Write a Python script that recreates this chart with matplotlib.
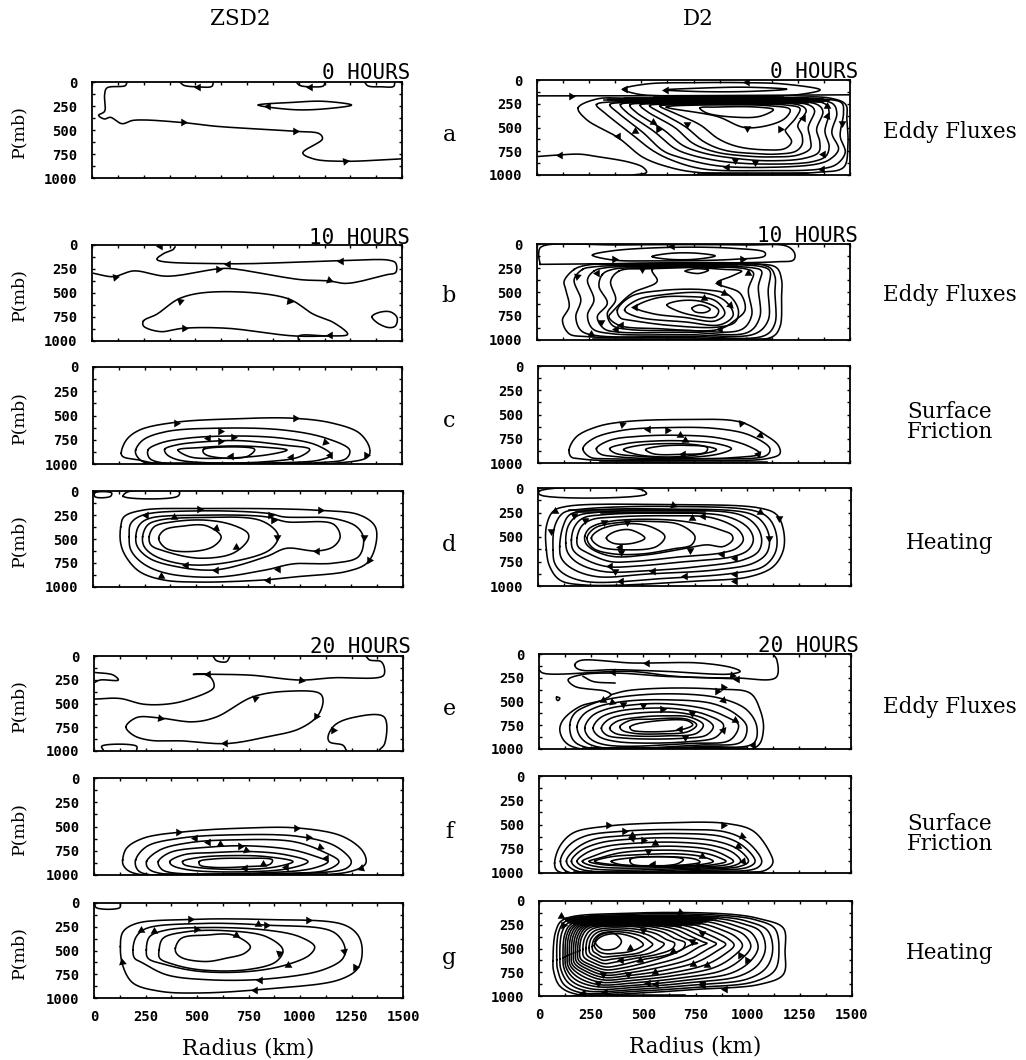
#!/usr/bin/env python3
# streamfunction panels, contours as (radius km, pressure mb)
import matplotlib
matplotlib.use('Agg')
import matplotlib.pyplot as plt
import numpy as np
from matplotlib.ticker import MultipleLocator

W, H = 1026, 1060

radius_ticks = [0, 250, 500, 750, 1000, 1250, 1500]
pressure_ticks = [0, 250, 500, 750, 1000]

# ---- ZSD2 column ----
a_l_open = [
    [(169,5),(161,38),(72,62),(61,132),(61,305),(32,347),(60,385),(89,368),(145,434),(201,399),(427,420),(604,462),
     (974,513),(1102,541),(1115,593),(1020,739),(1072,801),(1215,826),(1494,801)],
    [(427,5),(445,35),(510,50),(580,45),(587,5)],
    [(990,5),(1005,35),(1060,50),(1120,40),(1127,5)],
    [(1320,5),(1335,40),(1400,50),(1460,45),(1465,5)],
]
a_l_loops = [[(805,240),(974,212),(1119,201),(1256,240),(1119,281),(974,288)]]
a_l_arrows = [(515,52,180),(1054,52,180),(853,253,180),(440,420,0),(982,513,0),(1224,826,10)]

b_l_open = [
    [(402,20),(394,45),(346,90),(314,150),(652,195),(1199,163),(1441,160),(1470,190),(1470,285),(1425,310),(1232,400),
     (1151,375),(1006,360),(668,245),(604,250),(362,325),(201,270),(105,330),(8,295)],
    [(1000,1000),(1000,950),(1140,947)],
]
b_l_loops = [
    [(249,791),(313,722),(426,555),(588,489),(943,555),(1072,722),(1169,808),(1237,930),(1137,947),(975,947),(652,867),
     (443,867),(329,902),(249,843)],
    [(1355,746),(1387,704),(1444,697),(1476,756),(1468,843),(1436,860),(1379,808)],
]
b_l_arrows = [(330,15,180),(1205,167,180),(656,194,180),(111,333,-110),(612,253,0),(1145,364,-20),(426,583,-100),
              (951,583,-10),(443,867,120),(1153,940,180)]

c_l_open = [[(243,995),(1130,995)], [(300,988),(1060,988)]]
c_l_loops = [
    [(137,890),(162,752),(227,649),(405,569),(680,535),(971,528),(1165,580),(1294,683),(1343,838),(1335,925),(1165,994),
     (680,1000),(324,1000),(227,960),(146,925)],
    [(207,856),(243,752),(356,666),(599,631),(922,649),(1133,735),(1246,856),(1230,942),(1084,987),(680,1000),(324,994),
     (243,977),(210,907)],
    [(267,856),(324,787),(453,735),(680,711),(922,735),(1084,804),(1157,907),(1100,959),(922,987),(599,1000),(356,994),(275,942)],
    [(348,849),(404,804),(550,769),(712,759),(922,804),(1052,849),(1003,925),(841,976),(550,987),(404,952),(356,897)],
    [(413,856),(518,831),(680,814),(841,828),(942,856),(841,907),(599,942),(469,925)],
    [(537,849),(777,838),(785,856),(753,918),(663,942),(550,907),(534,873)],
]
c_l_arrows = [(405,580,0),(980,528,0),(558,735,60),(615,659,0),(615,762,0),(680,717,0),(1125,769,-15),(1149,907,-60),
              (1327,907,-120),(671,918,180),(963,925,180)]

d_l_open = []
d_l_loops = [
    [(134,373),(150,269),(240,200),(515,183),(1082,200),(1293,252),(1366,373),(1366,580),(1325,752),(1228,838),(1001,890),
     (839,925),(515,949),(337,925),(224,838),(159,683),(134,545)],
    [(175,476),(183,338),(240,252),(515,207),(855,235),(920,269),(1163,286),(1276,373),(1309,493),(1285,683),(1163,752),
     (969,759),(839,821),(596,897),(353,856),(240,752),(183,614)],
    [(207,476),(224,355),(272,286),(515,252),(839,269),(936,321),(1163,345),(1196,476),(1163,580),(1082,625),(936,597),
     (839,683),(596,821),(402,787),(272,700),(215,580)],
    [(240,476),(264,355),(321,304),(515,276),(807,304),(888,424),(896,493),(855,614),(677,735),(467,769),(305,683),(248,580)],
    [(272,476),(296,373),(386,321),(548,304),(677,355),(750,442),(750,510),(677,649),(515,700),(353,631),(280,562)],
    [(318,493),(345,407),(434,366),(548,362),(620,476),(580,580),(467,631),(353,597)],
    [(8,20),(90,20),(85,55),(10,60)],
    [(146,55),(167,10),(418,10),(410,55)],
]
d_l_arrows = [(515,186,0),(1098,200,0),(855,245,0),(256,252,180),(394,269,90),(871,304,0),(1309,476,-90),(1337,718,-120),
              (596,390,-40),(888,476,-90),(1082,621,180),(693,580,-150),(896,811,180),(596,821,180),(450,769,180),
              (847,925,180),(329,890,-150)]

e_l_open = [
    [(1322,7),(1338,42),(1394,60),(1411,148),(1402,211),(1160,229),(999,253),(756,201),(482,194),(554,201),(582,289),
     (579,341),(449,465),(352,507),(239,507),(126,447),(0,454)],
    [(1225,993),(1209,940),(1144,905),(1136,852),(1168,729),(1257,648),(1408,641),(1411,922),(1387,986)],
    [(0,172),(94,201),(118,253),(29,253),(0,282)],
    [(579,7),(595,49),(643,60),(659,7)],
    [(45,990),(37,950),(207,950),(207,990)],
]
e_l_loops = [
    [(155,746),(207,648),(304,648),(482,693),(595,641),(772,429),(950,370),(1096,394),(1112,465),(1088,623),(999,764),
     (837,852),(643,922),(433,894),(271,887),(191,834)],
]
e_l_arrows = [(554,194,180),(1007,253,-10),(320,648,-10),(781,440,20),(1079,634,-120),(635,911,180),(1160,774,-120)]

f_l_open = [[(239,995),(1210,995)], [(320,988),(1130,988)]]
f_l_loops = [
    [(139,845),(158,724),(239,621),(449,552),(724,517),(999,517),(1209,604),(1306,759),(1319,880),(1241,966),(837,1000),
     (239,1000),(166,955),(142,897)],
    [(202,845),(255,707),(417,621),(676,586),(999,604),(1176,707),(1249,862),(1225,931),(999,983),(239,983),(207,931)],
    [(255,862),(320,742),(465,666),(676,638),(966,655),(1112,759),(1189,862),(1128,949),(918,983),(320,983),(263,931)],
    [(312,862),(368,769),(546,714),(756,700),(966,742),(1079,811),(1136,862),(1063,931),(837,976),(352,966),(320,921)],
    [(368,862),(433,793),(579,769),(773,759),(934,793),(1039,862),(950,931),(756,966),(465,949),(377,897)],
    [(430,862),(514,818),(676,800),(837,811),(966,862),(869,921),(676,942),(498,921),(436,890)],
    [(511,862),(579,835),(724,828),(866,845),(856,887),(740,914),(579,921),(514,897)],
]
f_l_arrows = [(409,559,0),(983,517,0),(490,621,60),(1039,610,0),(554,662,60),(611,680,90),(1095,707,-20),(708,697,0),
              (740,742,-20),(1125,828,-60),(1298,931,-160),(821,890,90),(732,925,180),(934,921,180)]

g_l_open = [[(3,7),(11,49),(125,49),(128,7)]]
g_l_loops = [
    [(128,459),(141,303),(205,216),(448,174),(837,174),(1209,226),(1281,338),(1302,494),(1281,686),(1192,807),(837,905),
     (513,947),(319,929),(189,842),(141,668)],
    [(189,494),(205,355),(254,268),(513,216),(837,233),(1160,303),(1217,459),(1209,581),(1112,703),(837,800),(545,807),
     (351,755),(238,633),(197,581)],
    [(254,494),(270,355),(351,285),(545,258),(837,285),(998,355),(1071,459),(1047,546),(934,651),(756,720),(513,720),
     (351,651),(262,581)],
    [(316,494),(335,372),(448,303),(642,292),(837,355),(917,494),(885,616),(739,703),(513,703),(383,644),(319,581)],
    [(395,477),(424,372),(545,338),(675,338),(759,459),(731,529),(642,581),(545,616),(432,581),(400,529)],
]
g_l_arrows = [(464,164,0),(1039,174,0),(796,216,90),(837,233,0),(230,285,-150),(290,296,-150),(497,275,0),(691,338,-30),
              (898,522,-100),(1215,505,-80),(1265,675,-120),(942,651,-150),(804,814,180),(780,912,180),(138,616,100)]

# ---- D2 column ----
a_r_open = [
    [(5,167),(700,165),(1500,156)],
    [(5,805),(93,791),(205,781),(285,805),(445,867),(509,920),(525,972),(461,1000)],
    [(750,995),(1380,995)], [(770,975),(1300,975)],
    [(560,182),(1180,182)], [(420,190),(1300,190)], [(340,198),(1370,198)], [(320,206),(1400,206)],
    [(340,214),(1400,214)], [(400,222),(1390,222)], [(480,230),(1370,230)], [(600,238),(1300,238)],
]
a_r_loops = [
    [(413,97),(525,42),(765,28),(989,28),(1181,42),(1357,104),(1245,156),(925,173),(605,167),(477,146)],
    [(613,104),(765,87),(1005,76),(1197,97),(1005,121),(765,121)],
    [(197,295),(237,416),(389,607),(509,815),(637,920),(765,972),(1085,989),(1341,972),(1469,920),(1490,700),(1485,416),
     (1480,260),(1405,191),(1085,191),(445,191),(285,201)],
    [(285,260),(325,347),(445,555),(557,746),(653,850),(797,937),(1085,954),(1357,937),(1437,885),(1477,763),(1453,590),
     (1469,347),(1461,243),(1373,201),(925,208),(445,225)],
    [(349,260),(389,347),(509,555),(605,746),(685,815),(861,902),(1085,920),(1341,885),(1405,833),(1445,729),(1413,555),
     (1437,347),(1413,243),(925,225),(445,236)],
    [(400,260),(430,340),(560,540),(660,720),(740,790),(900,860),(1100,885),(1320,860),(1385,800),(1400,700),(1380,540),
     (1400,340),(1380,250),(925,232),(500,240)],
    [(445,265),(475,340),(610,530),(700,690),(800,770),(950,825),(1110,850),(1280,825),(1350,760),(1355,650),(1340,520),
     (1370,330),(1340,255),(925,240),(550,245)],
    [(495,265),(530,335),(660,500),(750,670),(860,760),(1000,800),(1120,810),(1250,790),(1310,720),(1310,620),(1300,500),
     (1330,320),(1300,260),(925,248),(600,250)],
    [(540,270),(590,340),(710,490),(800,650),(900,740),(1050,775),(1150,780),(1240,750),(1270,680),(1270,580),(1250,480),
     (1290,320),(1260,265),(925,255),(640,255)],
    [(590,275),(650,340),(780,470),(870,620),(960,700),(1090,735),(1190,720),(1220,650),(1190,530),(1200,500),(1240,400),
     (1260,300),(1200,265),(925,260),(680,260)],
    [(620,285),(861,382),(1005,503),(1181,416),(1213,312),(1117,272),(765,264)],
    [(781,295),(813,347),(957,392),(1069,382),(1133,312),(1053,285),(861,285)],
]
a_r_arrows = [(165,167,0),(421,97,180),(620,104,180),(1005,17,180),(389,590,180),(469,538,-150),(557,444,-150),
              (581,513,120),(717,458,150),(1005,503,-90),(1165,513,-120),(1277,399,60),(1389,382,70),(1461,451,-90),
              (1373,780,-60),(949,840,-90),(1045,867,-90),(909,920,180),(1365,937,180),(109,791,180),(1389,278,90)]

b_r_open = [
    [(15,212),(8,100),(20,30),(400,10),(1000,10),(1200,25),(1235,100),(1230,165),(1150,185),(600,200),(15,212)],
    [(270,985),(1120,985)], [(300,995),(1120,995)],
    [(250,205),(1050,205)], [(320,213),(1020,213)], [(400,221),(960,221)],
]
b_r_loops = [
    [(266,116),(361,71),(647,35),(949,46),(1092,88),(1092,123),(949,159),(552,176),(361,166)],
    [(552,131),(631,99),(758,95),(854,124),(758,159),(631,159)],
    [(711,282),(758,258),(822,272),(774,307)],
    [(178,265),(130,388),(138,477),(154,653),(122,794),(154,935),(234,964),(711,975),(1124,971),(1164,865),(1172,547),
     (1172,371),(1148,247),(1029,205),(393,205),(234,222)],
    [(218,265),(178,371),(210,583),(186,759),(210,900),(281,953),(711,960),(1092,953),(1140,830),(1140,512),(1140,335),
     (1108,236),(552,222),(281,236)],
    [(273,282),(242,371),(273,583),(242,741),(266,882),(361,935),(711,943),(1045,935),(1108,794),(1108,477),(1116,282),
     (1076,236),(552,236),(329,247)],
    [(313,318),(297,441),(337,618),(289,759),(321,882),(393,918),(711,918),(1013,918),(1068,759),(1061,441),(1076,282),
     (1029,247),(552,247),(361,265)],
    [(393,282),(353,388),(377,583),(337,724),(361,847),(440,890),(711,900),(981,890),(1029,741),(1013,477),(1037,300),
     (997,258),(552,258)],
    [(552,265),(576,388),(456,512),(369,688),(345,759),(393,847),(584,882),(870,890),(949,794),(997,688),(973,512),
     (862,406),(933,335),(981,282),(902,265)],
    [(385,688),(450,547),(584,487),(806,477),(917,530),(965,688),(950,812),(870,865),(631,847),(450,794),(400,770)],
    [(420,688),(480,583),(599,530),(806,512),(905,600),(940,741),(880,840),(711,812),(480,759)],
    [(472,660),(568,565),(711,547),(854,590),(900,724),(854,801),(711,766),(552,724)],
    [(623,635),(679,593),(790,600),(870,688),(854,759),(743,741),(663,688)],
    [(743,670),(782,635),(830,681),(806,713),(758,706)],
]
b_r_arrows = [(647,18,180),(369,159,0),(981,159,0),(504,265,-90),(194,335,-100),(289,300,180),(1013,300,90),(870,406,180),
              (798,565,90),(894,512,-30),(925,635,-45),(472,660,180),(305,812,-90),(377,882,180),(401,847,180),
              (878,890,180),(258,935,90)]

c_r_open = [[(297,985),(1100,985)]]
c_r_loops = [
    [(149,869),(184,731),(281,628),(409,576),(698,552),(970,576),(1083,697),(1155,818),(1163,904),(1099,956),(778,973),
     (297,973),(200,956),(160,938)],
    [(216,852),(265,749),(409,662),(618,635),(858,645),(1019,714),(1115,852),(1099,921),(778,956),(345,956),(249,938)],
    [(281,852),(345,766),(489,724),(666,714),(858,738),(1003,818),(1067,904),(938,945),(618,956),(393,938),(297,904)],
    [(345,852),(425,800),(569,773),(714,773),(858,800),(930,852),(874,904),(698,945),(489,931),(369,897)],
    [(412,862),(489,818),(650,800),(778,818),(858,862),(778,911),(618,938),(473,911)],
    [(518,862),(585,828),(714,818),(814,842),(807,887),(682,911),(553,904)],
]
c_r_arrows = [(406,593,20),(978,583,10),(530,645,60),(618,662,0),(682,714,-30),(706,759,-30),(1067,714,-40),(1059,904,50),
              (698,911,180)]

d_r_open = [[(150,225),(700,225)], [(180,240),(800,240)], [(300,255),(760,255)]]
d_r_loops = [
    [(5,34),(8,68),(520,61),(496,17)],
    [(40,631),(40,392),(72,239),(136,188),(616,170),(1064,205),(1144,273),(1176,426),(1176,631),(1128,801),(1016,904),
     (776,948),(216,989),(104,938),(56,801)],
    [(72,631),(80,392),(120,256),(216,215),(616,188),(1048,239),(1112,324),(1144,494),(1136,665),(1080,801),(936,870),
     (616,921),(232,955),(120,870),(80,767)],
    [(104,597),(120,392),(152,273),(248,229),(616,215),(1016,262),(1080,358),(1109,511),(1096,665),(1032,767),(856,835),
     (536,876),(280,904),(160,818),(112,716)],
    [(133,563),(144,392),(184,290),(280,249),(616,229),(968,273),(1048,392),(1072,529),(1056,648),(984,733),(776,801),
     (536,842),(312,852),(192,767),(144,665)],
    [(160,529),(176,392),(216,307),(312,273),(616,256),(904,290),(1008,409),(1032,529),(1008,631),(936,699),(712,750),
     (488,794),(328,801),(216,716),(168,631)],
    [(187,511),(208,392),(256,324),(360,297),(616,283),(840,307),(960,426),(984,529),(952,614),(872,665),(696,699),
     (456,750),(344,750),(240,665),(192,597)],
    [(224,494),(248,409),(344,341),(616,324),(792,375),(872,426),(928,477),(933,529),(888,597),(808,580),(712,614),
     (520,682),(360,699),(264,631),(229,563)],
    [(235,511),(272,409),(392,351),(536,341),(680,375),(752,494),(736,580),(648,621),(504,672),(360,672),(264,614)],
    [(256,511),(296,426),(424,365),(536,392),(608,494),(568,597),(424,631),(296,597)],
    [(328,511),(360,453),(440,426),(512,511),(456,563),(360,563)],
]
d_r_arrows = [(648,170,-20),(80,232,-150),(171,273,-90),(224,324,-90),(315,351,-90),(427,351,-90),(736,307,90),(792,290,180),
              (1064,246,-30),(1157,307,-90),(1109,511,-90),(64,443,-90),(395,597,180),(400,655,-90),(728,631,-90),
              (880,672,180),(944,716,180),(344,801,180),(368,852,-90),(552,852,180),(704,894,180),(944,880,180),
              (400,948,180),(944,948,180)]

e_r_open = [
    [(0,165),(19,201),(437,183),(662,236),(951,253),(1140,246),(1143,60),(1127,7)],
    [(935,260),(613,236),(373,201),(204,218),(140,271),(172,341),(324,394),(345,429),(308,482),(196,553),(116,693),
     (100,799),(124,922),(188,993),(774,993),(1047,975),(1079,799),(1063,588),(1015,412),(854,370),(613,359),(421,387),(345,429)],
    [(212,236),(260,289),(365,306)],
    [(212,985),(999,985)], [(250,992),(960,992)],
]
e_r_loops = [
    [(172,113),(196,70),(453,95),(774,95),(935,148),(967,183),(919,211),(613,183),(357,165),(212,173),(180,148)],
    [(85,455),(100,465),(92,490),(85,480)],
    [(148,746),(172,623),(244,535),(357,465),(613,419),(870,465),(999,588),(1047,764),(1031,940),(774,975),(228,983),(164,905)],
    [(183,764),(212,641),(276,560),(405,500),(613,482),(838,524),(951,641),(999,764),(975,922),(774,958),(276,975),(204,887)],
    [(220,781),(252,658),(324,581),(453,535),(613,524),(806,581),(903,665),(959,746),(919,905),(742,940),(324,958),(244,887)],
    [(260,781),(292,676),(373,606),(533,570),(678,581),(806,641),(887,746),(854,870),(726,922),(373,922),(284,862)],
    [(300,781),(332,693),(405,641),(549,612),(694,623),(806,693),(838,764),(806,852),(694,887),(421,887),(324,852)],
    [(340,781),(373,711),(485,665),(613,651),(726,665),(790,746),(758,834),(613,862),(453,862),(365,834)],
    [(389,764),(437,700),(533,686),(710,686),(758,746),(718,816),(581,841),(453,834),(397,799)],
    [(437,771),(469,736),(710,700),(739,746),(678,799),(485,816),(445,799)],
]
e_r_arrows = [(517,95,180),(357,193,180),(927,218,-10),(951,260,180),(887,348,0),(855,394,0),(308,482,-150),(349,510,-20),
              (405,524,-90),(498,535,-90),(589,581,0),(734,616,-90),(887,489,-45),(943,693,-150),(887,799,50),
              (678,792,180),(702,877,-90),(1031,958,180)]

f_r_open = [[(116,995),(1087,995)], [(170,988),(1060,988)]]
f_r_loops = [
    [(75,897),(100,725),(164,587),(324,518),(613,483),(903,490),(1031,569),(1111,793),(1124,897),(1087,973),(774,994),
     (116,1000),(83,966)],
    [(103,880),(140,725),(220,621),(405,569),(662,552),(903,580),(1008,690),(1071,880),(1047,949),(774,983),(132,983)],
    [(132,880),(172,759),(260,656),(421,614),(662,593),(887,628),(983,725),(1039,880),(1007,938),(774,973),(172,973)],
    [(156,880),(196,776),(292,690),(453,649),(662,638),(854,673),(959,759),(1007,880),(967,931),(774,959),(196,959)],
    [(183,880),(228,793),(324,725),(485,690),(662,683),(838,718),(935,793),(970,880),(935,925),(758,949),(228,945)],
    [(209,880),(260,828),(357,759),(517,731),(662,725),(822,759),(903,828),(935,880),(903,914),(726,938),(268,931)],
    [(241,880),(292,845),(405,787),(662,766),(806,800),(870,845),(899,880),(838,914),(678,932),(308,914)],
    [(268,880),(340,835),(485,811),(678,804),(790,835),(838,880),(774,914),(581,925),(357,914)],
    [(348,880),(437,845),(662,835),(758,862),(774,887),(710,914),(453,925),(373,904)],
    [(437,869),(453,845),(678,845),(694,862),(662,907),(485,925),(445,904)],
]
f_r_arrows = [(332,507,0),(886,507,0),(411,569,0),(445,604,-30),(445,638,-70),(501,656,0),(557,690,-30),(525,776,-90),
              (975,621,-20),(959,725,-30),(782,828,90),(983,880,-50),(549,907,180),(758,932,180)]

g_r_open = [[(240,160),(700,160)], [(170,170),(800,170)], [(130,180),(860,180)], [(120,190),(850,190)], [(130,200),(830,200)],
            [(130,210),(810,210)], [(140,220),(800,220)], [(150,230),(780,230)], [(170,240),(770,240)], [(200,250),(740,250)],
            [(260,260),(680,260)], [(200,985),(700,985)], [(160,995),(820,995)]]
g_r_loops = [
    [(67,633),(80,320),(115,198),(435,129),(915,139),(1059,188),(1171,285),(1179,529),(1171,773),(1059,877),(755,930),
     (515,964),(179,981),(99,894),(70,738)],
    [(85,620),(95,320),(130,210),(435,140),(900,155),(1040,200),(1130,290),(1150,520),(1130,730),(1030,850),(750,910),
     (500,945),(200,965),(120,880),(90,730)],
    [(100,610),(110,330),(145,225),(435,155),(880,170),(1000,215),(1095,310),(1120,510),(1090,700),(1000,820),(740,885),
     (500,925),(225,945),(140,860),(105,720)],
    [(115,600),(125,340),(160,235),(435,165),(860,185),(970,235),(1060,320),(1085,500),(1050,670),(960,790),(720,860),
     (480,905),(250,925),(155,840),(120,710)],
    [(125,590),(135,345),(170,245),(435,175),(830,200),(935,255),(1020,340),(1050,490),(1010,640),(920,760),(700,835),
     (470,885),(270,900),(170,820),(130,700)],
    [(135,580),(145,350),(180,250),(435,185),(800,215),(900,275),(985,360),(1015,480),(970,610),(880,730),(680,810),
     (460,860),(285,880),(185,800),(140,690)],
    [(145,570),(155,355),(190,255),(435,195),(770,235),(865,295),(945,380),(975,470),(930,585),(840,700),(650,785),
     (450,835),(295,855),(200,780),(150,680)],
    [(155,560),(165,360),(200,260),(435,205),(740,250),(830,315),(905,395),(935,465),(890,560),(800,670),(625,760),
     (440,810),(305,830),(215,760),(160,670)],
    [(165,550),(175,365),(210,265),(435,215),(710,265),(795,335),(865,410),(895,455),(850,530),(760,640),(600,730),
     (430,785),(310,805),(225,740),(170,655)],
    [(175,540),(185,370),(220,270),(435,225),(680,280),(760,355),(825,420),(850,450),(810,505),(725,610),(575,700),
     (420,760),(315,780),(235,720),(180,640)],
    [(185,530),(195,375),(230,275),(435,235),(650,295),(725,370),(785,430),(805,445),(770,480),(690,580),(550,670),
     (410,735),(320,755),(245,700),(190,625)],
    [(195,520),(205,380),(240,285),(435,250),(620,310),(690,385),(745,435),(760,445),(730,460),(650,550),(525,640),
     (400,705),(320,725),(255,680),(200,610)],
    [(210,510),(220,385),(255,295),(420,265),(590,325),(650,395),(700,440),(690,500),(610,570),(500,615),(390,675),
     (320,695),(265,655),(215,590)],
    [(225,500),(235,390),(270,310),(410,285),(555,340),(610,405),(650,445),(640,500),(570,560),(470,600),(370,640),
     (315,660),(275,630),(230,570)],
    [(240,490),(250,395),(285,325),(400,305),(520,355),(570,415),(600,450),(585,490),(530,550),(440,585),(355,610),
     (310,625),(285,605),(245,550)],
    [(255,480),(265,400),(300,340),(390,325),(490,370),(530,425),(545,455),(530,490),(480,545),(410,570),(340,585),
     (305,590),(280,560),(260,530)],
    [(265,470),(280,405),(315,360),(385,345),(455,385),(490,430),(500,460),(480,495),(430,535),(375,550),(320,555),(285,530)],
    [(270,425),(291,362),(355,338),(395,425),(371,494),(307,511),(275,459)],
]
g_r_arrows = [(675,111,-20),(107,153,-150),(115,250,120),(779,338,-90),(499,303,-90),(731,418,-90),(435,494,-150),
              (395,626,180),(483,616,-150),(643,522,-150),(555,745,90),(307,766,-90),(427,766,-90),(283,860,-90),
              (739,668,-150),(803,675,-150),(963,571,-120),(995,616,-120),(523,860,180),(563,870,180),(779,860,-90),
              (787,887,180),(891,929,180),(211,964,180),(315,957,180)]

# panel boxes in pixels: x0, x1, ytop, ybottom
left_boxes = [(92,402,82,178), (92,402,245,341), (93,402,367,464), (93,403,491,587),
              (94,403,656,751), (94,403,778,875), (94,403,903,998)]
right_boxes = [(537,850,80,175), (537,850,244,340), (538,850,366,463), (538,851,488,586),
               (539,851,654,749), (539,851,776,873), (539,852,901,996)]

left_panels = [(a_l_open, a_l_loops, a_l_arrows), (b_l_open, b_l_loops, b_l_arrows), (c_l_open, c_l_loops, c_l_arrows),
               (d_l_open, d_l_loops, d_l_arrows), (e_l_open, e_l_loops, e_l_arrows), (f_l_open, f_l_loops, f_l_arrows),
               (g_l_open, g_l_loops, g_l_arrows)]
right_panels = [(a_r_open, a_r_loops, a_r_arrows), (b_r_open, b_r_loops, b_r_arrows), (c_r_open, c_r_loops, c_r_arrows),
                (d_r_open, d_r_loops, d_r_arrows), (e_r_open, e_r_loops, e_r_arrows), (f_r_open, f_r_loops, f_r_arrows),
                (g_r_open, g_r_loops, g_r_arrows)]


def smooth(pts, closed):
    # centripetal catmull-rom through the points, knots in panel pixels
    pts = np.array(pts, dtype=float)
    if len(pts) < 3:
        return pts
    scale = np.array([1/4.84, 1/10.4])
    if closed:
        p = np.vstack([pts[-1], pts, pts[0], pts[1]])
    else:
        p = np.vstack([2*pts[0]-pts[1], pts, 2*pts[-1]-pts[-2]])
    out = []
    for i in range(1, len(p) - 2):
        p0, p1, p2, p3 = p[i-1], p[i], p[i+1], p[i+2]
        t1 = np.linalg.norm((p1-p0)*scale)**0.5
        t2 = t1 + np.linalg.norm((p2-p1)*scale)**0.5
        t3 = t2 + np.linalg.norm((p3-p2)*scale)**0.5
        t = np.linspace(t1, t2, 12, endpoint=False)[:, None]
        a1 = (t1-t)/t1*p0 + t/t1*p1
        a2 = (t2-t)/(t2-t1)*p1 + (t-t1)/(t2-t1)*p2
        a3 = (t3-t)/(t3-t2)*p2 + (t-t2)/(t3-t2)*p3
        b1 = (t2-t)/t2*a1 + t/t2*a2
        b2 = (t3-t)/(t3-t1)*a2 + (t-t1)/(t3-t1)*a3
        out.append((t2-t)/(t2-t1)*b1 + (t-t1)/(t2-t1)*b2)
    return np.vstack(out + [p[-2]])


def draw_panel(fig, box, panel, bottom_labels):
    x0, x1, ytop, ybot = box
    ax = fig.add_axes([x0/W, 1-ybot/H, (x1-x0)/W, (ybot-ytop)/H])
    ax.set_xlim(0, 1500)
    ax.set_ylim(1000, 0)
    opens, loops, arrows = panel
    for c in opens:
        s = smooth(c, False)
        ax.plot(s[:, 0], s[:, 1], color='k', lw=1.15)
    for c in loops:
        s = smooth(c, True)
        ax.plot(s[:, 0], s[:, 1], color='k', lw=1.15)
    for r, p, ang in arrows:
        ax.plot([r], [p], marker=(3, 0, ang-90), ms=6.5, color='k', mew=0, ls='none')
    ax.set_xticks(radius_ticks)
    ax.set_yticks(pressure_ticks)
    ax.xaxis.set_minor_locator(MultipleLocator(125))
    ax.yaxis.set_minor_locator(MultipleLocator(125))
    ax.tick_params(which='both', direction='in', top=True, right=True, length=2, width=1)
    ax.tick_params(axis='y', which='major', pad=10.5)
    ax.tick_params(axis='x', which='major', pad=8.5)
    ax.tick_params(bottom=True, labelbottom=bottom_labels)
    for lab in ax.get_xticklabels() + ax.get_yticklabels():
        lab.set_fontfamily('DejaVu Sans Mono')
        lab.set_fontweight('bold')
        lab.set_fontsize(10)
    for sp in ax.spines.values():
        sp.set_linewidth(1.3)
    return ax


def px_text(fig, x, y, s, **kw):
    fig.text(x/W, 1-y/H, s, ha=kw.pop('ha', 'center'), va='center', **kw)


fig = plt.figure(figsize=(W/100, H/100), dpi=100)

for i in range(7):
    draw_panel(fig, left_boxes[i], left_panels[i], i == 6)
    draw_panel(fig, right_boxes[i], right_panels[i], i == 6)
    b = left_boxes[i]
    px_text(fig, 19, (b[2]+b[3])/2+2, 'P(mb)', family='DejaVu Serif', fontsize=12.5, rotation=90)

serif = dict(family='DejaVu Serif', fontsize=15.5)
px_text(fig, 240, 19, 'ZSD2', **serif)
px_text(fig, 698, 19, 'D2', **serif)
px_text(fig, 248, 1048, 'Radius (km)', **serif)
px_text(fig, 695, 1047, 'Radius (km)', **serif)

for s, y in zip('abcdefg', [135, 296, 421, 545, 709, 832, 958]):
    px_text(fig, 449, y, s, family='DejaVu Serif', fontsize=16)

for s, y in [('Eddy Fluxes', 132), ('Eddy Fluxes', 295), ('Surface\nFriction', 422), ('Heating', 543),
             ('Eddy Fluxes', 707), ('Surface\nFriction', 834), ('Heating', 953)]:
    px_text(fig, 950, y, s, linespacing=0.85, **serif)

mono = dict(family='DejaVu Sans Mono', fontsize=15, ha='right')
px_text(fig, 410, 73, '0 HOURS', **mono)
px_text(fig, 858, 72, '0 HOURS', **mono)
px_text(fig, 410, 238, '10 HOURS', **mono)
px_text(fig, 858, 236, '10 HOURS', **mono)
px_text(fig, 411, 647, '20 HOURS', **mono)
px_text(fig, 859, 646, '20 HOURS', **mono)

fig.savefig('out.png', dpi=100)
